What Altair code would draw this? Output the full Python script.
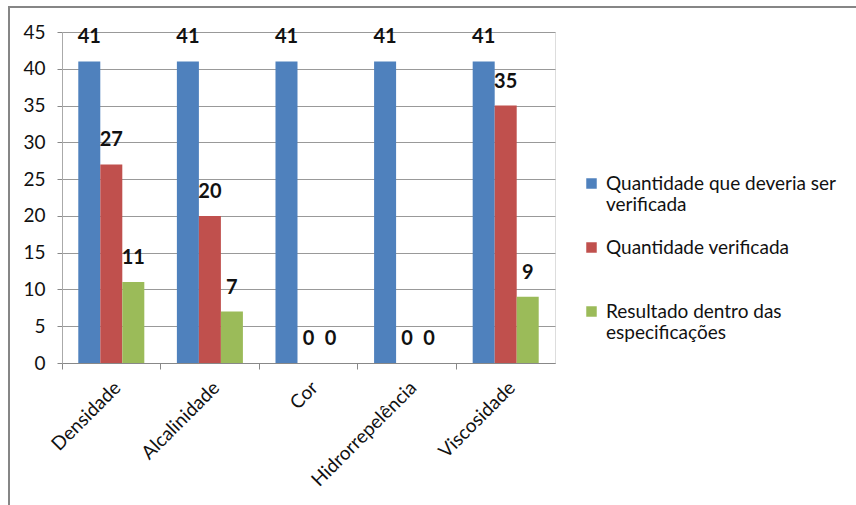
import altair as alt
import pandas as pd

categories = ["Densidade", "Alcalinidade", "Cor", "Hidrorrepelência", "Viscosidade"]
series = [
    "Quantidade que deveria ser verificada",
    "Quantidade verificada",
    "Resultado dentro das especificações",
]
legend_lines = [
    ["Quantidade que deveria ser", "verificada"],
    ["Quantidade verificada", ""],
    ["Resultado dentro das", "especificações"],
]
deveria = [41, 41, 41, 41, 41]
verificada = [27, 20, 0, 0, 35]
resultado = [11, 7, 0, 0, 9]
colors = ["#4F81BD", "#C0504D", "#9BBB59"]
y_ticks = [0, 5, 10, 15, 20, 25, 30, 35, 40, 45]

rows = []
for vals, s in zip([deveria, verificada, resultado], series):
    for c, v in zip(categories, vals):
        rows.append({"cat": c, "serie": s, "valor": v})
df = pd.DataFrame(rows)

label_expr = " : ".join(
    f"datum.label == '{s}' ? {lines!r}" for s, lines in zip(series, legend_lines)
) + " : datum.label"

FONT = "Lato"

base = alt.Chart(df).encode(
    x=alt.X("cat:N", sort=categories,
            scale=alt.Scale(paddingInner=0, paddingOuter=0),
            axis=alt.Axis(title=None, labelAngle=-45, labelFontSize=19,
                          labelColor="#111", bandPosition=0, tickSize=6,
                          tickColor="#888", domainColor="#888", labelPadding=9,
                          labelFont=FONT, grid=False)),
    xOffset=alt.XOffset("serie:N", sort=series,
                        scale=alt.Scale(paddingInner=0, paddingOuter=0.74)),
    y=alt.Y("valor:Q", scale=alt.Scale(domain=[0, 45]),
            axis=alt.Axis(title=None, values=y_ticks, labelFontSize=19,
                          labelColor="#111", tickSize=5, tickColor="#888",
                          domainColor="#aaa", gridColor="#999",
                          labelOverlap=False, labelPadding=12, labelFont=FONT)),
)

bars = base.mark_bar().encode(
    color=alt.Color("serie:N", sort=series,
                    scale=alt.Scale(domain=series, range=colors),
                    legend=alt.Legend(title=None, orient="none", legendX=520,
                                      legendY=142, symbolType="square",
                                      symbolSize=110, symbolStrokeWidth=0,
                                      labelFontSize=19, labelFont=FONT,
                                      labelColor="#111", labelExpr=label_expr,
                                      labelLimit=400, rowPadding=23,
                                      labelOffset=5)),
)

text = base.mark_text(baseline="bottom", dy=-14, fontSize=20,
                      fontWeight="bold", font=FONT, color="#111").encode(
    text="valor:Q",
)

frame = alt.Chart(pd.DataFrame({"a": [0]})).mark_rect(
    fill=None, stroke="#868686", strokeWidth=2
).encode(x=alt.value(-53), x2=alt.value(900), y=alt.value(-25), y2=alt.value(600))

chart = alt.layer(frame, bars, text).properties(
    width=493, height=331,
    autosize=alt.AutoSizeParams(type="none"),
    padding={"left": 62, "top": 32, "right": 301, "bottom": 142},
).configure_view(stroke=None).configure(background="white")

chart.save("out.html", embed_options={"renderer": "svg", "actions": False})
